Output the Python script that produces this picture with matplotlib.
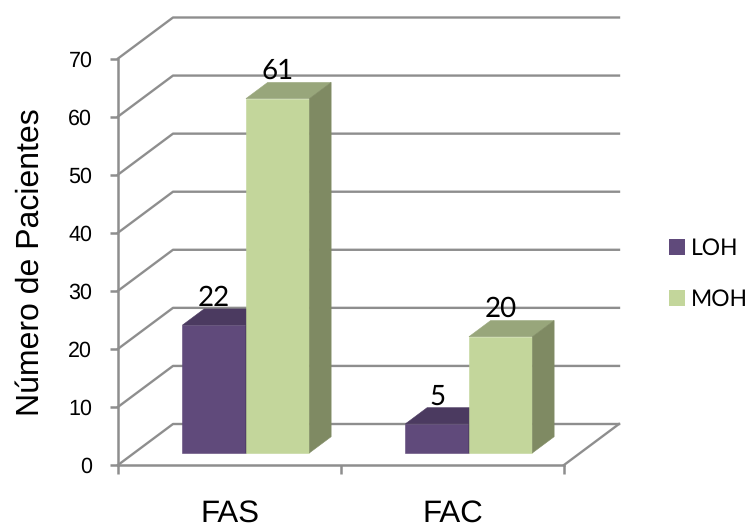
import matplotlib
matplotlib.use("Agg")
import matplotlib.pyplot as plt
from matplotlib.patches import Patch, Polygon

plt.rcParams["text.hinting"] = "no_hinting"

categories = ["FAS", "FAC"]
series_names = ["LOH", "MOH"]
loh_values = [22, 5]
moh_values = [61, 20]
y_ticks = [0, 10, 20, 30, 40, 50, 60, 70]

W, H = 749, 528
GRID = "#8e8e8e"
LOH_COLORS = ("#604a7b", "#4b3a60", "#3f3050")
MOH_COLORS = ("#c3d69b", "#98a67b", "#7f8a63")

fig = plt.figure(figsize=(W / 100, H / 100), dpi=100)
# front plane of the fake 3d box, in pixels
ax = fig.add_axes([118 / W, 1 - 465 / H, 446 / W, 406.5 / H])
ax.set_xlim(0, 2)
ax.set_ylim(0, 70)
px_x = 2 / 446
px_y = 70 / 406.5
depth_x = 55 * px_x
depth_y = 41 * px_y


def project(x, y, d):
    # d is the depth into the box, 0 = front, 1 = back wall
    return x + d * depth_x, y + d * depth_y


# walls and floor
for v in y_ticks:
    pts = [project(0, v, 0), project(0, v, 1), project(2, v, 1)]
    ax.plot(*zip(*pts), color=GRID, lw=1.7, clip_on=False, zorder=1)
ax.plot(*zip(project(2, 0, 0), project(2, 0, 1)), color=GRID, lw=1.7, clip_on=False, zorder=1)

bar_w = 63.5 * px_x
d0, d1 = 0.296, 0.69
start = 0.216


def draw_bar(x, value, colors, z):
    front, top, side = colors
    faces = [
        ([project(x, 0, d0), project(x + bar_w, 0, d0), project(x + bar_w, value, d0), project(x, value, d0)], front),
        ([project(x, value, d0), project(x + bar_w, value, d0), project(x + bar_w, value, d1), project(x, value, d1)], top),
        ([project(x + bar_w, 0, d0), project(x + bar_w, 0, d1), project(x + bar_w, value, d1), project(x + bar_w, value, d0)], side),
    ]
    for pts, c in faces:
        ax.add_patch(Polygon(pts, closed=True, facecolor=c, edgecolor=c, lw=0.4, clip_on=False, zorder=z))
    cx, cy = project(x + bar_w / 2, value, d0)
    ax.annotate(str(value), (cx, cy), xytext=(0, 14), textcoords="offset points", ha="center",
                va="baseline", fontsize=20, family="Lato", color="black", zorder=5, annotation_clip=False)


for i in range(len(categories)):
    draw_bar(i + start, loh_values[i], LOH_COLORS, 2)
    draw_bar(i + start + bar_w, moh_values[i], MOH_COLORS, 3)

# axes
for s in ("top", "right"):
    ax.spines[s].set_visible(False)
for s in ("left", "bottom"):
    ax.spines[s].set_color(GRID)
    ax.spines[s].set_linewidth(1.8)
    ax.spines[s].set_zorder(1.5)
ax.patch.set_alpha(0)
ax.set_yticks(y_ticks)
ax.set_xticks([0, 1, 2])
ax.set_xticklabels([])
ax.set_xticks([i + 0.5 for i in range(len(categories))], minor=True)
ax.set_xticklabels(categories, minor=True, fontsize=22.5, family="Liberation Sans")
ax.tick_params(axis="x", which="major", length=6.5, width=1.8, color=GRID)
ax.tick_params(axis="x", which="minor", length=0, pad=25)
ax.tick_params(axis="y", length=6, width=1.8, color=GRID, pad=12.5, labelsize=15.5)
for lab in ax.get_yticklabels():
    lab.set_family("Liberation Sans")
ax.set_ylabel("Número de Pacientes", fontsize=23, family="Liberation Sans")
ax.yaxis.set_label_coords((45 - 118) / 446, 0.5)

handles = [Patch(facecolor=LOH_COLORS[0], edgecolor="none"), Patch(facecolor=MOH_COLORS[0], edgecolor="none")]
ax.legend(handles, series_names, loc="center left", bbox_to_anchor=(669 / W, 1 - 274 / H),
          bbox_transform=fig.transFigure, frameon=False, handlelength=0.7, handleheight=0.7,
          handletextpad=0.26, labelspacing=1.3, borderpad=0, borderaxespad=0, prop={"family": "Lato", "size": 16.5})

fig.savefig("out.png", dpi=100)
